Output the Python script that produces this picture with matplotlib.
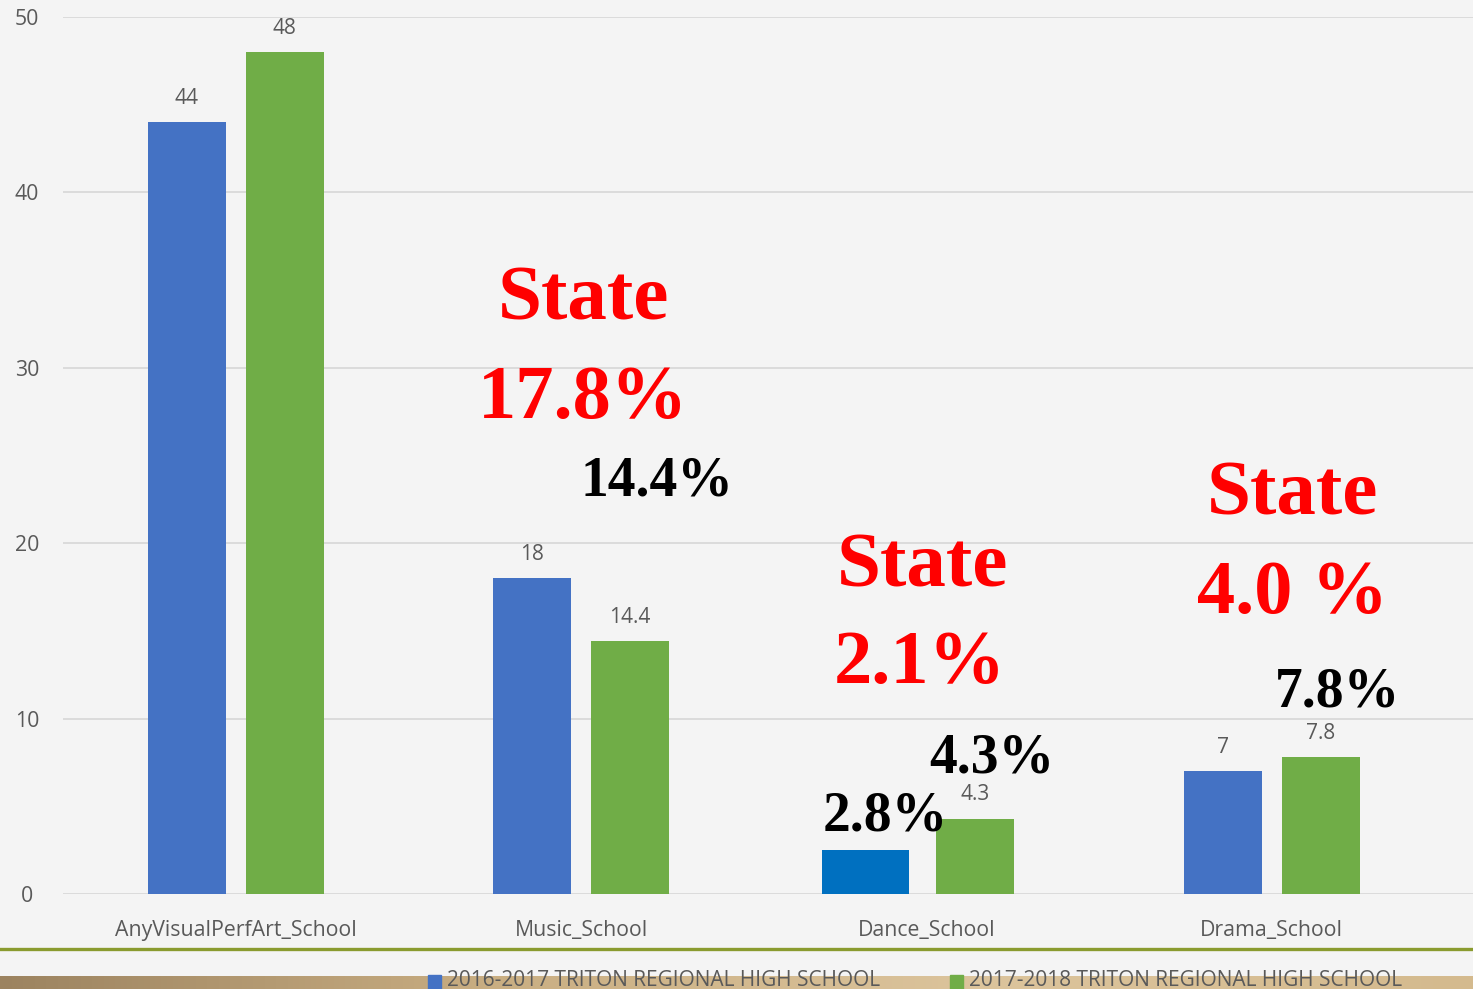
import matplotlib.pyplot as plt
import numpy as np
from matplotlib.patches import Rectangle

# data
categories = ["AnyVisualPerfArt_School", "Music_School", "Dance_School", "Drama_School"]
series_names = ["2016-2017 TRITON REGIONAL HIGH SCHOOL", "2017-2018 TRITON REGIONAL HIGH SCHOOL"]
vals_1617 = [44, 18, 2.5, 7]
vals_1718 = [48, 14.4, 4.3, 7.8]
labels_1617 = ["44", "18", "", "7"]
labels_1718 = ["48", "14.4", "4.3", "7.8"]

# overlay notes (text, x, y, color, size)
notes = [
    ("State", 1.006, 33.8, "red", 57),
    ("17.8%", 1.006, 28.2, "red", 55),
    ("14.4%", 1.22, 23.5, "black", 40),
    ("State", 1.988, 18.6, "red", 57),
    ("2.1%", 1.982, 13.1, "red", 55),
    ("4.3%", 2.19, 7.7, "black", 40),
    ("2.8%", 1.88, 4.4, "black", 40),
    ("State", 3.06, 22.7, "red", 57),
    ("4.0 %", 3.06, 17.1, "red", 55),
    ("7.8%", 3.19, 11.5, "black", 40),
]

BLUE = "#4472C4"
GREEN = "#70AD47"
DANCE_BLUE = "#0070C0"
GRAY = "#595959"
BG = "#F4F4F4"

W, H = 1473, 989
fig = plt.figure(figsize=(W / 100, H / 100), dpi=100)
fig.patch.set_facecolor(BG)

ax = fig.add_axes([63 / W, (H - 894) / H, 1 - 63 / W, (894 - 17) / H])
ax.set_facecolor("none")

x = np.arange(len(categories))
off = 0.142
bw = 0.226

b1 = ax.bar(x - off, vals_1617, bw, color=BLUE, zorder=3)
b2 = ax.bar(x + off, vals_1718, bw, color=GREEN, zorder=3)

# the dance 16-17 bar is a hand-drawn shape in the original, slightly wider and darker
b1[2].set_facecolor(DANCE_BLUE)
b1[2].set_width(0.252)
b1[2].set_x(2 - 0.175 - 0.252 / 2)

for bars, labs in [(b1, labels_1617), (b2, labels_1718)]:
    for b, lab in zip(bars, labs):
        if lab:
            ax.annotate(lab, (b.get_x() + b.get_width() / 2, b.get_height()),
                        xytext=(0, 24), textcoords="offset pixels",
                        ha="center", va="center", fontsize=15,
                        color=GRAY, family="Open Sans")

ax.set_xlim(-0.5, 3.583)
ax.set_ylim(0, 50)
ax.set_yticks(range(0, 51, 10))
ax.yaxis.grid(True, color="#D9D9D9", lw=1.3, zorder=0)
for s in ax.spines.values():
    s.set_visible(False)
ax.tick_params(axis="both", length=0, labelsize=15.3, labelcolor=GRAY)
ax.tick_params(axis="y", pad=26)
ax.tick_params(axis="x", pad=19)
ax.set_xticks(x)
ax.set_xticklabels(categories, family="Open Sans")
for t in ax.get_yticklabels():
    t.set_family("Open Sans")
    t.set_horizontalalignment("center")

for txt, tx, ty, col, sz in notes:
    ax.text(tx, ty, txt, color=col, fontsize=sz, fontweight="bold",
            family="Liberation Serif", ha="center", va="center", zorder=5)

# olive divider line
fig.add_artist(plt.Line2D([0, 1], [(H - 949) / H] * 2, color="#8A9B2F", lw=2.4,
                          transform=fig.transFigure))

# brown band at the bottom
band = fig.add_axes([0, 0, 1, 13 / H])
grad = np.linspace(0, 1, 256)[None, :]
band.imshow(grad, aspect="auto", cmap=plt.matplotlib.colors.LinearSegmentedColormap.from_list(
    "band", ["#9C8360", "#C9AE82", "#DCC49C", "#D4BA8E"]), extent=[0, 1, 0, 1])
band.set_axis_off()

# legend (cut off by the bottom edge, as in the original)
leg_y = (H - 981) / H
for i, (name, col, px) in enumerate([(series_names[0], BLUE, 428), (series_names[1], GREEN, 950)]):
    fig.patches.append(Rectangle((px / W, (H - 989) / H), 13 / W, 14 / H, color=col,
                                 transform=fig.transFigure, figure=fig, zorder=5))
    fig.text((px + 19) / W, leg_y, name, fontsize=15, color=GRAY, va="center",
             family=["Liberation Sans Narrow", "Open Sans"], zorder=5)

fig.savefig("out.png", dpi=100, facecolor=fig.get_facecolor())
